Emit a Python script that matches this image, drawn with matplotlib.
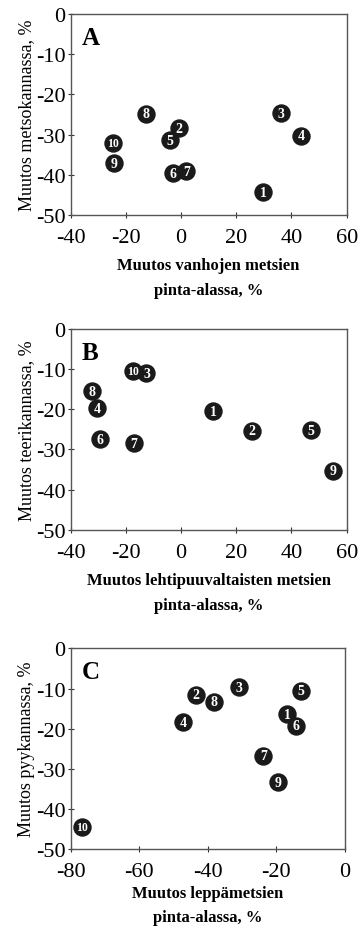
import matplotlib.pyplot as plt

plt.rcParams['font.family'] = ['Liberation Serif', 'DejaVu Serif']
plt.rcParams['axes.unicode_minus'] = False

site_ids = ['1', '2', '3', '4', '5', '6', '7', '8', '9', '10']

# A: vanhat metsat vs metso
a_x = [29.7, -0.8, 36.1, 43.4, -4.0, -2.8, 1.9, -12.8, -24.2, -24.8]
a_y = [-44.4, -28.4, -24.7, -30.3, -31.4, -39.6, -39.1, -24.8, -37.1, -32.2]

# B: lehtipuuvaltaiset metsat vs teeri
b_x = [11.7, 25.8, -12.5, -30.3, 47.0, -29.4, -17.1, -32.4, 55.0, -17.5]
b_y = [-20.5, -25.3, -11.0, -19.7, -25.2, -27.4, -28.4, -15.5, -35.3, -10.4]

# C: leppametsat vs pyy
c_x = [-16.8, -43.5, -30.8, -47.1, -12.7, -14.4, -23.8, -38.1, -19.5, -76.8]
c_y = [-16.4, -11.6, -9.7, -18.4, -10.5, -19.3, -26.7, -13.3, -33.4, -44.6]

panels = [
    ('A', a_x, a_y, (-40, 60), [-40, -20, 0, 20, 40, 60],
     'Muutos vanhojen metsien\npinta-alassa, %', 'Muutos metsokannassa, %',
     [0.196, 0.7675, 0.767, 0.2164], 7),
    ('B', b_x, b_y, (-40, 60), [-40, -20, 0, 20, 40, 60],
     'Muutos lehtipuuvaltaisten metsien\npinta-alassa, %', 'Muutos teerikannassa, %',
     [0.196, 0.4287, 0.767, 0.2160], 7),
    ('C', c_x, c_y, (-80, 0), [-80, -60, -40, -20, 0],
     'Muutos leppämetsien\npinta-alassa, %', 'Muutos pyykannassa, %',
     [0.196, 0.085, 0.762, 0.2160], 3),
]

fig = plt.figure(figsize=(3.6, 9.29), dpi=100)

for letter, xs, ys, xlim, xticks, xlabel, ylabel, rect, lpad in panels:
    ax = fig.add_axes(rect)
    ax.scatter(xs, ys, s=150, color='#1a1a1a', zorder=3)
    for lab, x, y in zip(site_ids, xs, ys):
        ax.text(x, y, lab, color='white', fontsize=10 if len(lab) == 1 else 8.5,
                ha='center', va='center', zorder=4, fontweight='bold')
    ax.set_xlim(*xlim)
    ax.set_ylim(-50, 0)
    ax.set_xticks(xticks)
    ax.set_yticks([0, -10, -20, -30, -40, -50])
    ax.tick_params(direction='inout', length=5, width=0.8, labelsize=16,
                   color='#333333')
    ax.tick_params(axis='x', pad=7)
    ax.tick_params(axis='y', pad=1)
    for sp in ax.spines.values():
        sp.set_color('#555555')
        sp.set_linewidth(1.0)
    ax.set_xlabel(xlabel, fontsize=12, fontweight='bold', labelpad=lpad,
                  linespacing=1.6 if lpad < 5 else 1.75)
    ax.set_ylabel(ylabel, fontsize=13, labelpad=1)
    ax.text(0.04, 0.94, letter, transform=ax.transAxes, fontsize=18,
            fontweight='bold', va='top', ha='left')

fig.savefig('out.png', dpi=100)
